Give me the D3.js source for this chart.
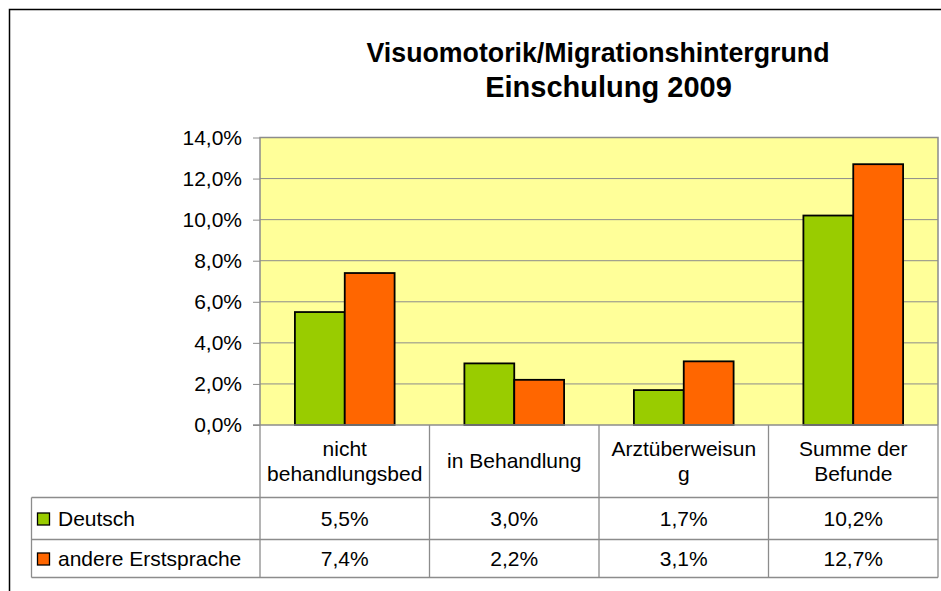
<!DOCTYPE html>
<html><head><meta charset="utf-8">
<script src="https://cdn.jsdelivr.net/npm/d3@7"></script>
<style>body{margin:0;background:#fff}svg{display:block}text{font-family:"Liberation Sans",Arial,sans-serif;fill:#000}</style>
</head><body>
<script>
const categories = ["nicht behandlungsbed", "in Behandlung", "Arztüberweisung", "Summe der Befunde"];
const categoryLines = [["nicht", "behandlungsbed"], ["in Behandlung"], ["Arztüberweisun", "g"], ["Summe der", "Befunde"]];
const seriesNames = ["Deutsch", "andere Erstsprache"];
const deutsch = [0.055, 0.030, 0.017, 0.102];
const andere = [0.074, 0.022, 0.031, 0.127];
const tableLabels = [["5,5%", "3,0%", "1,7%", "10,2%"], ["7,4%", "2,2%", "3,1%", "12,7%"]];
const yTicks = [0, 0.02, 0.04, 0.06, 0.08, 0.10, 0.12, 0.14];
const colors = ["#99CC00", "#FF6600"];
const titleLines = ["Visuomotorik/Migrationshintergrund", "Einschulung 2009"];

const W = 941, H = 591;
const svg = d3.select("body").append("svg").attr("width", W).attr("height", H);
const plot = {l: 260, r: 938, t: 137.5, b: 425};
const gridCol = "#8c8c8c";

// outer frame
svg.append("path").attr("d", `M9.5,${H+2}V9.5H${W+2}`).attr("fill", "none").attr("stroke", "#000").attr("stroke-width", 1.5);

// title
svg.append("text").attr("x", 598).attr("y", 62).attr("text-anchor", "middle")
  .attr("font-size", 27).attr("font-weight", "bold")
  .attr("textLength", 463).attr("lengthAdjust", "spacingAndGlyphs").text(titleLines[0]);
svg.append("text").attr("x", 608.5).attr("y", 97).attr("text-anchor", "middle")
  .attr("font-size", 29).attr("font-weight", "bold").text(titleLines[1]);

const y = d3.scaleLinear().domain([0, 0.14]).range([plot.b, plot.t]);
const x0 = d3.scaleBand().domain(categories).range([plot.l, plot.r]).padding(0);
const x1 = d3.scaleBand().domain(seriesNames).range([0, x0.bandwidth()]).paddingInner(0).paddingOuter(0.7);

// plot background
svg.append("rect").attr("x", plot.l).attr("y", plot.t).attr("width", plot.r - plot.l).attr("height", plot.b - plot.t)
  .attr("fill", "#FFFF99");

// gridlines
svg.append("g").selectAll("line").data(yTicks.slice(1)).join("line")
  .attr("x1", plot.l).attr("x2", plot.r).attr("y1", d => y(d)).attr("y2", d => y(d))
  .attr("stroke", gridCol).attr("stroke-width", 1);

// y axis
const fmt = d => (d * 100).toFixed(1).replace(".", ",") + "%";
const yAxis = d3.axisLeft(y).tickValues(yTicks).tickFormat(fmt).tickSize(7).tickPadding(11);
const ag = svg.append("g").attr("transform", `translate(${plot.l},0)`).call(yAxis);
ag.select(".domain").remove();
ag.selectAll(".tick line").attr("stroke", gridCol);
ag.selectAll(".tick text").attr("font-size", 21).attr("font-family", "Liberation Sans, Arial, sans-serif").attr("fill", "#000");

// plot border (left, top, right)
svg.append("path").attr("d", `M${plot.l},${plot.b}V${plot.t}H${plot.r}V${plot.b}`)
  .attr("fill", "none").attr("stroke", gridCol).attr("stroke-width", 1.5);

// bars
const seriesVals = [deutsch, andere];
seriesNames.forEach((s, si) => {
  svg.append("g").selectAll("rect").data(categories).join("rect")
    .attr("x", (c) => x0(c) + x1(s))
    .attr("y", (c, i) => y(seriesVals[si][i]))
    .attr("width", x1.bandwidth())
    .attr("height", (c, i) => y(0) - y(seriesVals[si][i]))
    .attr("fill", colors[si]).attr("stroke", "#000").attr("stroke-width", 1.8);
});

// zero line
svg.append("line").attr("x1", plot.l - 7).attr("x2", plot.r).attr("y1", plot.b).attr("y2", plot.b)
  .attr("stroke", gridCol).attr("stroke-width", 1.5);

// data table
const rowY = [plot.b, 497.5, 539.5, 577.5];
const tableLeft = 31.5;
const tg = svg.append("g");
[rowY[1], rowY[2], rowY[3]].forEach(yy => {
  tg.append("line").attr("x1", tableLeft).attr("x2", plot.r).attr("y1", yy).attr("y2", yy).attr("stroke", gridCol).attr("stroke-width", 1.3);
});
const colX = [plot.l, ...categories.slice(1).map(c => x0(c)), plot.r];
colX.forEach(xx => {
  tg.append("line").attr("x1", xx).attr("x2", xx).attr("y1", rowY[0]).attr("y2", rowY[3]).attr("stroke", gridCol).attr("stroke-width", 1.3);
});
tg.append("line").attr("x1", tableLeft).attr("x2", tableLeft).attr("y1", rowY[1]).attr("y2", rowY[3]).attr("stroke", gridCol).attr("stroke-width", 1.3);

// category labels
categories.forEach((c, i) => {
  const lines = categoryLines[i];
  const cx = x0(c) + x0.bandwidth() / 2;
  const lh = 25;
  const y0c = (rowY[0] + rowY[1]) / 2 - (lines.length - 1) * lh / 2 + 7;
  lines.forEach((ln, j) => {
    tg.append("text").attr("x", cx).attr("y", y0c + j * lh).attr("text-anchor", "middle")
      .attr("font-size", 21).text(ln);
  });
});

// values
tableLabels.forEach((row, ri) => {
  const cy = (rowY[ri + 1] + rowY[ri + 2]) / 2 + 7.5;
  row.forEach((v, i) => {
    tg.append("text").attr("x", x0(categories[i]) + x0.bandwidth() / 2).attr("y", cy)
      .attr("text-anchor", "middle").attr("font-size", 21).text(v);
  });
  tg.append("rect").attr("x", 37.5).attr("y", cy - 13).attr("width", 12).attr("height", 12)
    .attr("fill", colors[ri]).attr("stroke", "#000").attr("stroke-width", 1.3);
  tg.append("text").attr("x", 58).attr("y", cy).attr("font-size", 21).text(seriesNames[ri]);
});
</script>
</body></html>
